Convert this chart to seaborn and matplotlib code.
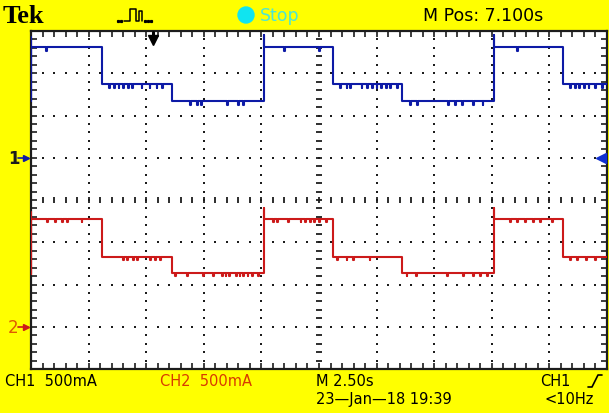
import numpy as np
import pandas as pd
import matplotlib
matplotlib.use("Agg")
import matplotlib.pyplot as plt
import seaborn as sns
from matplotlib.lines import Line2D
from matplotlib.patches import Ellipse

# ---- acquisition settings ----
sec_per_div = 2.5
amps_per_div = 0.5
n_xdiv, n_ydiv = 10, 8
ch1_ground_div = 5
ch2_ground_div = 1

# ---- step profile: edge times (s) and level index held after each edge ----
edge_times = [0.0, 3.1, 6.1, 10.1, 13.1, 16.1, 20.1, 23.1]
edge_states = [0, 1, 2, 0, 1, 2, 0, 1]

# current levels (A) for high / middle / low steps
ch1_levels = [1.31, 0.87, 0.67]
ch2_levels = [1.28, 0.83, 0.64]

# vertical sweep drawn at the left edge (top, bottom) and rising-edge overshoot
ch1_start = [1.43, 0.67]
ch2_start = [1.36, 0.63]
ch1_overshoot = 1.45
ch2_overshoot = 1.40

# short noise dips on each trace (s)
ch1_glitches = [0.65, 3.4, 3.6, 3.8, 4.0, 4.2, 4.4, 4.8, 5.15, 5.45, 5.7,
                6.9, 7.2, 7.4, 8.5, 9.0, 9.2, 11.0, 12.5,
                13.4, 13.7, 13.85, 14.35, 14.6, 14.8, 15.0, 15.2, 15.4, 15.6, 15.9,
                16.45, 16.75, 18.1, 18.4, 18.7, 19.2, 19.6, 21.1,
                23.4, 23.6, 23.8, 24.0, 24.2, 24.5, 24.8]
ch2_glitches = [0.69, 1.04, 1.35, 1.56, 2.2, 4.0, 4.17, 4.43, 4.6, 5.16, 5.38, 5.6,
                6.25, 6.77, 7.47, 7.9, 8.3, 8.45, 8.6, 8.9, 9.05, 9.2, 9.4, 9.6, 9.85,
                10.5, 10.68, 11.15, 11.7, 11.9, 12.1, 12.3, 12.5, 12.8,
                13.3, 13.7, 13.98, 14.7, 16.3, 16.7, 18.05, 18.75, 19.2, 19.5, 19.8,
                20.8, 21.1, 21.45, 21.8, 22.1, 22.6, 23.4, 23.7, 24.1, 24.5]

t_end = n_xdiv * sec_per_div
dip_depth = 0.045  # A
dip_width = 0.035  # s


def build_trace(levels, start, overshoot, glitches, ground, name):
    pts = [(0.0, start[0]), (0.0, start[1])]
    bounds = edge_times + [t_end]
    for i, (t0, s) in enumerate(zip(edge_times, edge_states)):
        t1 = bounds[i + 1]
        lev = levels[s]
        if s == 0 and t0 > 0:
            pts.append((t0, overshoot))
        pts.append((t0, lev))
        for g in glitches:
            if t0 + 0.05 < g < t1 - 0.12:
                pts.append((g, lev - dip_depth))
                pts.append((g + dip_width, lev))
    pts.append((t_end, levels[edge_states[-1]]))
    df = pd.DataFrame(pts, columns=["t", "amps"])
    df["div"] = ground + df["amps"] / amps_per_div
    df["channel"] = name
    return df


traces = pd.concat([
    build_trace(ch1_levels, ch1_start, ch1_overshoot, ch1_glitches, ch1_ground_div, "CH1"),
    build_trace(ch2_levels, ch2_start, ch2_overshoot, ch2_glitches, ch2_ground_div, "CH2"),
], ignore_index=True)

BLUE = "#0d1aa6"
RED = "#cc1a1a"
YELLOW = "#ffff00"
DARK = "#1c1c1c"

sns.set_style("white")
plt.rcParams["font.family"] = ["DejaVu Sans"]

W, H = 609, 414
fig = plt.figure(figsize=(W / 100, H / 100), dpi=100, facecolor=YELLOW)
ax = fig.add_axes([31 / W, (H - 370) / H, 576 / W, 338 / H])
ax.set_facecolor("white")

sns.lineplot(data=traces, x="t", y="div", hue="channel",
             palette={"CH1": BLUE, "CH2": RED}, estimator=None, sort=False,
             drawstyle="steps-post", lw=1.5, legend=False, ax=ax, zorder=5)

ax.set_xlim(0, t_end)
ax.set_ylim(0, n_ydiv)

# graticule: dotted division lines, tick-marked centre cross
minor_x = np.arange(0, t_end + 1e-9, sec_per_div / 5)
minor_y = np.arange(0, n_ydiv + 1e-9, 0.2)
for k in range(1, n_xdiv):
    if k == n_xdiv // 2:
        continue
    ax.plot(np.full(minor_y.size, k * sec_per_div), minor_y, ls="none",
            marker="s", ms=1.5, mew=0, color=DARK, zorder=2)
for j in range(1, n_ydiv):
    if j == n_ydiv // 2:
        continue
    ax.plot(minor_x, np.full(minor_x.size, j), ls="none",
            marker="s", ms=1.5, mew=0, color=DARK, zorder=2)
ax.plot(minor_x, np.full(minor_x.size, n_ydiv / 2), ls="none", marker="|",
        ms=4.5, mew=1.3, color=DARK, zorder=2)
ax.plot(np.full(minor_y.size, t_end / 2), minor_y, ls="none", marker="_",
        ms=4.5, mew=1.3, color=DARK, zorder=2)

ax.set_xticks(minor_x)
ax.set_yticks(minor_y)
ax.tick_params(direction="in", length=4, width=1.2, color=DARK,
               top=True, bottom=True, left=True, right=True,
               labelbottom=False, labelleft=False)
ax.set_xlabel("")
ax.set_ylabel("")
for sp in ax.spines.values():
    sp.set_color(DARK)
    sp.set_linewidth(1.6)

# trigger markers
ax.plot([5.3, 5.3], [7.97, 7.75], color="black", lw=2.2, clip_on=False, zorder=6)
ax.plot([5.3], [7.78], marker="v", ms=7, color="black", clip_on=False, zorder=6)
ax.plot([24.75], [ch1_ground_div], marker="<", ms=7, color="#1030d0",
        clip_on=False, zorder=6)

# channel ground markers
ax.plot([-0.55, -0.15], [ch1_ground_div] * 2, color=BLUE, lw=1.2, clip_on=False)
ax.plot([-0.2], [ch1_ground_div], marker=">", ms=5, color=BLUE, clip_on=False)
ax.plot([-0.55, -0.15], [ch2_ground_div] * 2, color=RED, lw=1.2, clip_on=False)
ax.plot([-0.2], [ch2_ground_div], marker=">", ms=5, color=RED, clip_on=False)


def fy(py):
    return 1 - py / H


fig.text(8 / W, fy(158.8), "1", fontsize=12, fontweight="bold", color=DARK,
         ha="left", va="center")
fig.text(8 / W, fy(328), "2", fontsize=12, color="#e05a00",
         ha="left", va="center")

# status bar (top)
fig.text(3 / W, fy(23), "Tek", family=["Liberation Serif", "DejaVu Serif"],
         fontweight="bold", fontsize=19, color="black", ha="left", va="baseline")
icon_x = [124, 130, 130, 136, 136, 139, 139, 142, 142]
icon_y = [22, 22, 10, 10, 22, 22, 12, 12, 22]
fig.add_artist(Line2D([x / W for x in icon_x], [fy(y) for y in icon_y],
                      transform=fig.transFigure, color="black", lw=1.1))
fig.add_artist(Line2D([x / W for x in [118, 121, 145, 148, 151]],
                      [fy(22)] * 5, transform=fig.transFigure, ls="none",
                      marker="s", ms=1.3, color="black"))
fig.add_artist(Ellipse((246 / W, fy(16)), 16 / W, 16 / H,
                       transform=fig.transFigure, color="#10e4f0"))
fig.text(260 / W, fy(16), "Stop", fontsize=12.5, color="#4ee6d2",
         ha="left", va="center")
fig.text(423 / W, fy(16), "M Pos: 7.100s", fontsize=12.5, color="black",
         ha="left", va="center")

# status bar (bottom)
fs = 10.5
fig.text(5 / W, fy(382), "CH1  500mA", fontsize=fs, color="black",
         ha="left", va="center")
fig.text(160 / W, fy(382), "CH2  500mA", fontsize=fs, color="#d83a00",
         ha="left", va="center")
fig.text(316 / W, fy(382), "M 2.50s", fontsize=fs, color="black",
         ha="left", va="center")
fig.text(316 / W, fy(400), "23\u2014Jan\u201418 19:39", fontsize=fs,
         color="black", ha="left", va="center")
fig.text(540 / W, fy(382), "CH1", fontsize=fs, color="black",
         ha="left", va="center")
fig.add_artist(Line2D([x / W for x in [588, 592, 598, 602]],
                      [fy(y) for y in [388, 388, 376, 376]],
                      transform=fig.transFigure, color="black", lw=1.2))
fig.text(545 / W, fy(400), "<10Hz", fontsize=fs, color="black",
         ha="left", va="center")

fig.savefig("out.png", dpi=100, facecolor=YELLOW)
